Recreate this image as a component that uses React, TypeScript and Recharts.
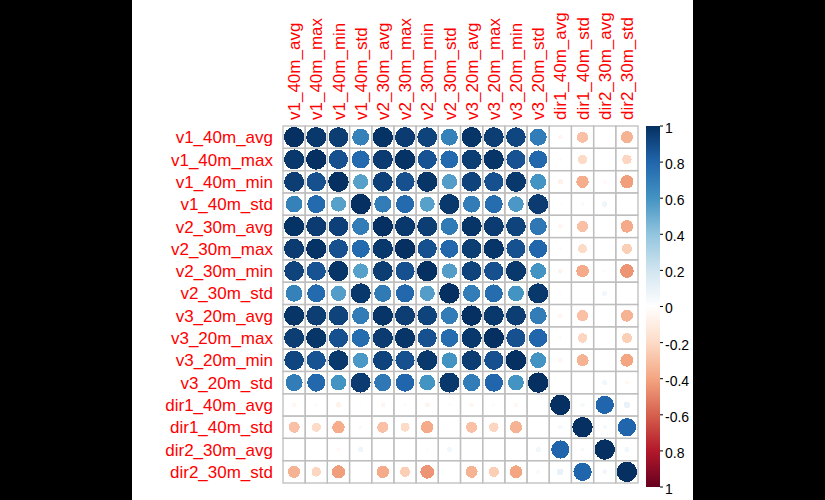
import React from 'react';
import { ScatterChart, Scatter, XAxis, YAxis, BarChart, Bar } from 'recharts';

const variables = [
  'v1_40m_avg', 'v1_40m_max', 'v1_40m_min', 'v1_40m_std',
  'v2_30m_avg', 'v2_30m_max', 'v2_30m_min', 'v2_30m_std',
  'v3_20m_avg', 'v3_20m_max', 'v3_20m_min', 'v3_20m_std',
  'dir1_40m_avg', 'dir1_40m_std', 'dir2_30m_avg', 'dir2_30m_std',
];

// correlation rows
const v1_40m_avg = [1, 0.97, 0.95, 0.68, 0.99, 0.96, 0.93, 0.68, 0.98, 0.95, 0.92, 0.7, -0.05, -0.3, -0.01, -0.35];
const v1_40m_max = [0.97, 1, 0.88, 0.78, 0.96, 0.99, 0.87, 0.78, 0.95, 0.98, 0.87, 0.79, -0.03, -0.2, 0, -0.22];
const v1_40m_min = [0.95, 0.88, 1, 0.55, 0.94, 0.88, 0.98, 0.56, 0.93, 0.88, 0.97, 0.6, -0.07, -0.37, -0.04, -0.42];
const v1_40m_std = [0.68, 0.78, 0.55, 1, 0.7, 0.78, 0.55, 0.97, 0.7, 0.77, 0.58, 0.96, -0.02, 0.03, 0.07, 0];
const v2_30m_avg = [0.99, 0.96, 0.94, 0.7, 1, 0.97, 0.95, 0.71, 0.98, 0.96, 0.93, 0.72, -0.05, -0.3, 0, -0.38];
const v2_30m_max = [0.96, 0.99, 0.88, 0.78, 0.97, 1, 0.88, 0.79, 0.95, 0.98, 0.88, 0.8, -0.03, -0.2, -0.01, -0.25];
const v2_30m_min = [0.93, 0.87, 0.98, 0.55, 0.95, 0.88, 1, 0.56, 0.93, 0.88, 0.97, 0.6, -0.06, -0.38, -0.02, -0.45];
const v2_30m_std = [0.68, 0.78, 0.56, 0.97, 0.71, 0.79, 0.56, 1, 0.7, 0.77, 0.6, 0.97, -0.02, 0, 0.06, -0.01];
const v3_20m_avg = [0.98, 0.95, 0.93, 0.7, 0.98, 0.95, 0.93, 0.7, 1, 0.97, 0.95, 0.7, -0.05, -0.3, 0, -0.35];
const v3_20m_max = [0.95, 0.98, 0.88, 0.77, 0.96, 0.98, 0.88, 0.77, 0.97, 1, 0.88, 0.8, -0.03, -0.22, -0.01, -0.25];
const v3_20m_min = [0.92, 0.87, 0.97, 0.58, 0.93, 0.88, 0.97, 0.6, 0.95, 0.88, 1, 0.6, -0.05, -0.35, -0.01, -0.4];
const v3_20m_std = [0.7, 0.79, 0.6, 0.96, 0.72, 0.8, 0.6, 0.97, 0.7, 0.8, 0.6, 1, -0.01, 0.01, 0.06, -0.04];
const dir1_40m_avg = [-0.05, -0.03, -0.07, -0.02, -0.05, -0.03, -0.06, -0.02, -0.05, -0.03, -0.05, -0.01, 1, 0.05, 0.8, 0.1];
const dir1_40m_std = [-0.3, -0.2, -0.37, 0.03, -0.3, -0.2, -0.38, 0, -0.3, -0.22, -0.35, 0.01, 0.05, 1, 0.05, 0.8];
const dir2_30m_avg = [-0.01, 0, -0.04, 0.07, 0, -0.01, -0.02, 0.06, 0, -0.01, -0.01, 0.06, 0.8, 0.05, 1, 0.06];
const dir2_30m_std = [-0.35, -0.22, -0.42, 0, -0.38, -0.25, -0.45, -0.01, -0.35, -0.25, -0.4, -0.04, 0.1, 0.8, 0.06, 1];

const rows = [
  v1_40m_avg, v1_40m_max, v1_40m_min, v1_40m_std,
  v2_30m_avg, v2_30m_max, v2_30m_min, v2_30m_std,
  v3_20m_avg, v3_20m_max, v3_20m_min, v3_20m_std,
  dir1_40m_avg, dir1_40m_std, dir2_30m_avg, dir2_30m_std,
];

const legendTicks = [1, 0.8, 0.6, 0.4, 0.2, 0, -0.2, -0.4, -0.6, -0.8, -1];
const legendLabels = ['1', '0.8', '0.6', '0.4', '0.2', '0', '-0.2', '-0.4', '-0.6', '0.8', '1'];

const palette = ['#67001F', '#B2182B', '#D6604D', '#F4A582', '#FDDBC7', '#FFFFFF', '#D1E5F0', '#92C5DE', '#4393C3', '#2166AC', '#053061'];

function hex(c: string) {
  return [1, 3, 5].map(i => parseInt(c.slice(i, i + 2), 16));
}

function corrColor(r: number) {
  const t = Math.max(0, Math.min(10, ((r + 1) / 2) * 10));
  const i = Math.min(9, Math.floor(t));
  const f = t - i;
  const a = hex(palette[i]);
  const b = hex(palette[i + 1]);
  const m = a.map((v, k) => Math.round(v + (b[k] - v) * f));
  return `rgb(${m[0]},${m[1]},${m[2]})`;
}

const points = rows.flatMap((row, i) =>
  row.map((r, j) => ({ x: j + 0.5, y: i + 0.5, r }))
);

const W = 561;
const H = 500;
const M = { top: 6, right: 55, bottom: 17, left: 6 };
const X_AXIS_H = 120;
const Y_AXIS_W = 145;
const cellW = (W - M.left - M.right - Y_AXIS_W) / 16;
const cellH = (H - M.top - M.bottom - X_AXIS_H) / 16;
const centers = variables.map((_, i) => i + 0.5);
const FONT = '"Liberation Sans", Arial, sans-serif';

const Cell = (props: any) => {
  const { cx, cy, payload } = props;
  const rad = 0.46 * Math.min(cellW, cellH) * Math.sqrt(Math.abs(payload.r));
  return (
    <g>
      <rect x={cx - cellW / 2} y={cy - cellH / 2} width={cellW} height={cellH}
        fill="none" stroke="#bebebe" strokeWidth={1.3} />
      {rad > 0.3 && (
        <circle cx={cx} cy={cy} r={rad} fill={corrColor(payload.r)} shapeRendering="crispEdges" />
      )}
    </g>
  );
};

const TopTick = (props: any) => {
  const { x, payload } = props;
  const label = variables[Math.floor(payload.value)];
  return (
    <text x={x} y={120} transform={`rotate(-90 ${x} 120)`} dy="0.36em"
      textAnchor="start" fill="#ff0000" fontSize={17} fontFamily={FONT}>
      {label}
    </text>
  );
};

const LeftTick = (props: any) => {
  const { y, payload } = props;
  const label = variables[Math.floor(payload.value)];
  return (
    <text x={141} y={y} dy="0.36em" textAnchor="end" fill="#ff0000" fontSize={17} fontFamily={FONT}>
      {label}
    </text>
  );
};

const legendData = [{ name: 'scale', range: [-1, 1] }];

export default function App() {
  return (
    <div style={{ position: 'absolute', left: 0, top: 0, width: 825, height: 500, background: '#000' }}>
      <svg width={0} height={0} style={{ position: 'absolute' }}>
        <defs>
          <linearGradient id="corrGrad" x1="0" y1="0" x2="0" y2="1">
            {palette.slice().reverse().map((c, i) => (
              <stop key={i} offset={`${i * 10}%`} stopColor={c} />
            ))}
          </linearGradient>
        </defs>
      </svg>
      <div style={{ position: 'absolute', left: 132, top: 0, width: W, height: H, background: '#fff' }}>
        <ScatterChart width={W} height={H} margin={M}>
          <XAxis type="number" dataKey="x" domain={[0, 16]} ticks={centers} interval={0}
            orientation="top" height={X_AXIS_H} axisLine={false} tickLine={false} tick={<TopTick />} />
          <YAxis type="number" dataKey="y" domain={[0, 16]} ticks={centers} interval={0}
            reversed width={Y_AXIS_W} axisLine={false} tickLine={false} tick={<LeftTick />} />
          <Scatter data={points} shape={<Cell />} isAnimationActive={false} />
        </ScatterChart>
        <div style={{ position: 'absolute', left: 508, top: 116 }}>
          <BarChart width={53} height={384} data={legendData}
            margin={{ top: 10, right: 0, bottom: 13, left: 6 }} barCategoryGap={0}>
            <XAxis dataKey="name" hide />
            <YAxis type="number" orientation="right" domain={[-1, 1]} ticks={legendTicks} interval={0}
              width={33} axisLine={false} tickSize={3} tickMargin={2}
              tickLine={{ stroke: '#000' }}
              tick={{ fill: '#000', fontSize: 14, fontFamily: FONT, dy: 2 }}
              tickFormatter={(v: number) => legendLabels[legendTicks.indexOf(v)]} />
            <Bar dataKey="range" fill="url(#corrGrad)" isAnimationActive={false} />
          </BarChart>
        </div>
      </div>
    </div>
  );
}
